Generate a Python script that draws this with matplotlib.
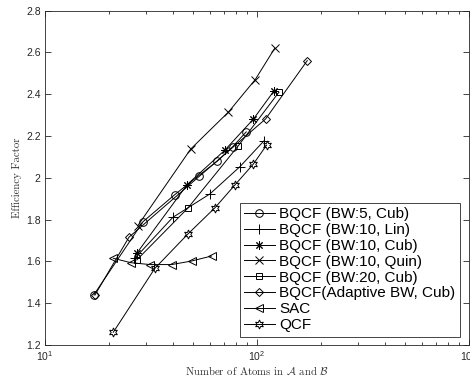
import matplotlib
matplotlib.use('Agg')
import matplotlib.pyplot as plt
from matplotlib.ticker import FixedLocator, FixedFormatter, LogLocator, NullFormatter

plt.rcParams['font.family'] = ['Liberation Sans', 'DejaVu Sans']

# Data
x_bw5 = [17, 29, 41, 53, 65, 77, 89]
y_bw5 = [1.44, 1.79, 1.92, 2.01, 2.08, 2.15, 2.22]

x_lin = [26.6, 40.1, 60.0, 83.2, 107.9]
y_lin = [1.616, 1.811, 1.923, 2.054, 2.177]

x_cub10 = [27.1, 46.9, 70.6, 96.0, 120.3]
y_cub10 = [1.639, 1.968, 2.133, 2.280, 2.416]

x_quin = [27.4, 48.7, 73.4, 98.1, 121.3]
y_quin = [1.771, 2.138, 2.315, 2.470, 2.620]

x_bw20 = [27.1, 47.1, 81.6, 127.0]
y_bw20 = [1.607, 1.854, 2.153, 2.410]

x_adapt = [17.2, 24.9, 109.9, 172.7]
y_adapt = [1.439, 1.716, 2.282, 2.561]

x_sac = [21.0, 25.4, 31.3, 39.6, 49.2, 61.1]
y_sac = [1.615, 1.594, 1.585, 1.585, 1.602, 1.626]

x_qcf = [21.0, 33.0, 47.1, 63.4, 78.7, 96.0, 111.1]
y_qcf = [1.261, 1.567, 1.730, 1.857, 1.966, 2.065, 2.157]

labels = ['BQCF (BW:5, Cub)', 'BQCF (BW:10, Lin)', 'BQCF (BW:10, Cub)',
          'BQCF (BW:10, Quin)', 'BQCF (BW:20, Cub)', 'BQCF(Adaptive BW, Cub)',
          'SAC', 'QCF']
y_ticks = [1.2, 1.4, 1.6, 1.8, 2.0, 2.2, 2.4, 2.6, 2.8]
y_ticklabels = ['1.2', '1.4', '1.6', '1.8', '2', '2.2', '2.4', '2.6', '2.8']
x_ticks = [10, 100, 1000]
x_ticklabels = [r'$\mathregular{10^{1}}$', r'$\mathregular{10^{2}}$', r'$\mathregular{10^{3}}$']

axc = '#262626'
fig = plt.figure(figsize=(4.7, 3.78), dpi=100)
ax = fig.add_axes([0.0957, 0.0873, 0.902, 0.8844])

lw = 0.7
style = dict(color='black', linewidth=lw, markerfacecolor='none',
             markeredgecolor='black', markeredgewidth=0.7)
ax.plot(x_bw5, y_bw5, marker='o', markersize=5.5, label=labels[0], **style)
ax.plot(x_lin, y_lin, marker='+', markersize=7, label=labels[1], **style)
ax.plot(x_cub10, y_cub10, marker=(8, 2, 0), markersize=6, label=labels[2], **style)
ax.plot(x_quin, y_quin, marker='x', markersize=6, label=labels[3], **style)
ax.plot(x_bw20, y_bw20, marker='s', markersize=5, label=labels[4], **style)
ax.plot(x_adapt, y_adapt, marker='D', markersize=4.5, label=labels[5], **style)
ax.plot(x_sac, y_sac, marker='<', markersize=6, label=labels[6], **style)
ax.plot(x_qcf, y_qcf, marker=(6, 1, 0), markersize=6.5, label=labels[7], **style)

ax.set_xscale('log')
ax.set_xlim(10, 1000)
ax.set_ylim(1.2, 2.8)
ax.xaxis.set_major_locator(FixedLocator(x_ticks))
ax.xaxis.set_major_formatter(FixedFormatter(x_ticklabels))
ax.xaxis.set_minor_locator(LogLocator(base=10, subs=range(2, 10)))
ax.xaxis.set_minor_formatter(NullFormatter())
ax.yaxis.set_major_locator(FixedLocator(y_ticks))
ax.yaxis.set_major_formatter(FixedFormatter(y_ticklabels))

ax.tick_params(which='both', direction='in', top=True, right=True,
               colors=axc, labelsize=7.5, width=0.6)
ax.tick_params(which='major', length=4, pad=3)
ax.tick_params(which='minor', length=2.5)
for sp in ax.spines.values():
    sp.set_color(axc)
    sp.set_linewidth(0.6)

ax.set_xlabel(r'Number of Atoms in $\mathcal{A}$ and $\mathcal{B}$',
              family='cmr10', math_fontfamily='cm', fontsize=7.8, color='#333333', labelpad=1)
ax.set_ylabel('Efficiency Factor', family='cmr10', fontsize=7.8, color='#333333', labelpad=3)

leg = ax.legend(loc='lower right', bbox_to_anchor=(0.979, 0.0248), borderaxespad=0,
                fontsize=11, handlelength=2.0, handletextpad=0.3, labelspacing=0.12,
                borderpad=0.3, fancybox=False, framealpha=1)
leg.get_frame().set_edgecolor(axc)
leg.get_frame().set_linewidth(0.6)

fig.savefig('out.png', dpi=100)
